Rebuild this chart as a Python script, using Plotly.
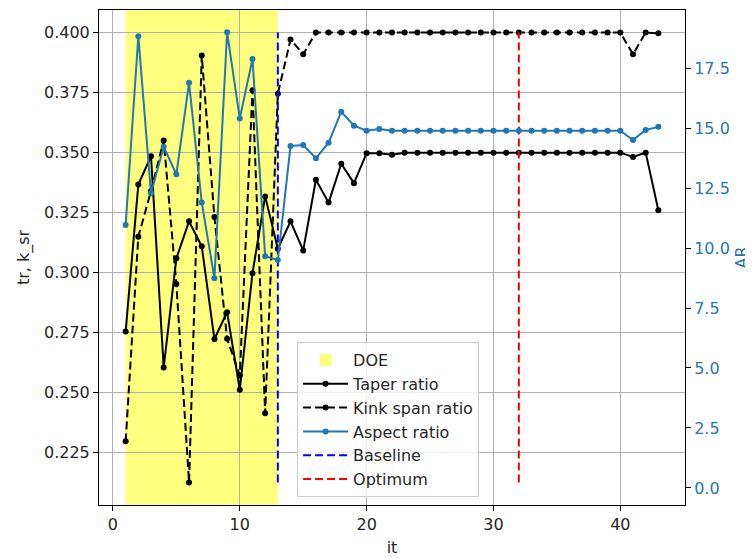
import plotly.graph_objects as go

iterations = list(range(1, 44))

taper_ratio = [0.2755, 0.3367, 0.3485, 0.2606, 0.3060, 0.3214, 0.3110, 0.2724, 0.2836, 0.2513,
               0.2998, 0.3318, 0.3100, 0.3214, 0.3093, 0.3387, 0.3292, 0.3454, 0.3373, 0.3498,
               0.3498, 0.3491, 0.3500, 0.3500, 0.3500, 0.3500, 0.3500, 0.3500, 0.3500, 0.3500,
               0.3500, 0.3500, 0.3500, 0.3500, 0.3500, 0.3500, 0.3500, 0.3500, 0.3500, 0.3500,
               0.3482, 0.3500, 0.3260]

kink_span_ratio = [0.2298, 0.3150, 0.3340, 0.3551, 0.2953, 0.2127, 0.3905, 0.3232, 0.2725, 0.2572,
                   0.3760, 0.2415, 0.3745, 0.3971, 0.3910, 0.4000, 0.4000, 0.4000, 0.4000, 0.4000,
                   0.4000, 0.4000, 0.4000, 0.4000, 0.4000, 0.4000, 0.4000, 0.4000, 0.4000, 0.4000,
                   0.4000, 0.4000, 0.4000, 0.4000, 0.4000, 0.4000, 0.4000, 0.4000, 0.4000, 0.4000,
                   0.3910, 0.4000, 0.3997]

aspect_ratio = [10.96, 18.83, 12.28, 14.22, 13.07, 16.89, 11.90, 8.74, 18.99, 15.40,
                17.88, 9.66, 9.50, 14.25, 14.29, 13.74, 14.39, 15.68, 15.10, 14.89,
                14.96, 14.89, 14.89, 14.89, 14.89, 14.89, 14.89, 14.89, 14.89, 14.89,
                14.89, 14.89, 14.89, 14.89, 14.89, 14.89, 14.89, 14.89, 14.89, 14.89,
                14.50, 14.92, 15.05]

doe_start, doe_end = 1, 13
baseline_it = 13
optimum_it = 32

left_ticks = [0.225, 0.250, 0.275, 0.300, 0.325, 0.350, 0.375, 0.400]
right_ticks = [0.0, 2.5, 5.0, 7.5, 10.0, 12.5, 15.0, 17.5]
x_ticks = [0, 10, 20, 30, 40]

BLUE = "#1f77b4"
FONT = "DejaVu Sans"
TXT = "#262626"
FS = 16

ymin_v = min(min(taper_ratio), min(kink_span_ratio))
ymax_v = max(max(taper_ratio), max(kink_span_ratio))

fig = go.Figure()

# DOE span (legend entry via shape)
fig.add_shape(type="rect", xref="x", yref="paper", x0=doe_start, x1=doe_end, y0=0, y1=1,
              fillcolor="yellow", opacity=0.5, line=dict(width=0), layer="below",
              showlegend=True, name="DOE", legendrank=1)

fig.add_trace(go.Scatter(x=iterations, y=taper_ratio, name="Taper ratio", mode="lines+markers",
                         line=dict(color="black", width=2), marker=dict(size=6, color="black"),
                         legendrank=2))
fig.add_trace(go.Scatter(x=iterations, y=kink_span_ratio, name="Kink span ratio", mode="lines+markers",
                         line=dict(color="black", width=2, dash="8px,4px"),
                         marker=dict(size=6, color="black"), legendrank=3))
fig.add_trace(go.Scatter(x=[baseline_it, baseline_it], y=[ymin_v, ymax_v], name="Baseline", mode="lines",
                         line=dict(color="#0000ff", width=2, dash="8px,4px"), legendrank=5))
fig.add_trace(go.Scatter(x=[optimum_it, optimum_it], y=[ymin_v, ymax_v], name="Optimum", mode="lines",
                         line=dict(color="#ff0000", width=2, dash="8px,4px"), legendrank=6))
fig.add_trace(go.Scatter(x=iterations, y=aspect_ratio, name="Aspect ratio", mode="lines+markers",
                         line=dict(color=BLUE, width=2), marker=dict(size=6, color=BLUE),
                         yaxis="y2", legendrank=4))

tf = dict(family=FONT, size=FS, color=TXT)

fig.update_layout(
    width=745, height=551,
    margin=dict(l=91, r=68, t=2, b=54),
    paper_bgcolor="white", plot_bgcolor="white",
    font=dict(family=FONT, size=FS, color=TXT),
    xaxis=dict(range=[-1.1, 45.1], tickvals=x_ticks, showgrid=True, gridcolor="#b0b0b0", gridwidth=1,
               title=dict(text="it", font=tf, standoff=8),
               showline=True, linecolor="black", linewidth=1, mirror=True,
               ticks="outside", ticklen=5, tickcolor="black", zeroline=False, tickfont=tf),
    yaxis=dict(range=[0.2033, 0.4094], tickvals=left_ticks, tickformat=".3f", showgrid=True,
               gridcolor="#b0b0b0", gridwidth=1,
               title=dict(text="tr, k_sr", font=tf, standoff=10),
               showline=True, linecolor="black", linewidth=1,
               ticks="outside", ticklen=5, tickcolor="black", zeroline=False, tickfont=tf),
    yaxis2=dict(range=[-0.71, 19.92], tickvals=right_ticks, tickformat=".1f", overlaying="y", side="right",
                showgrid=False, showline=True, linecolor="black", linewidth=1, ticks="outside", ticklen=5,
                tickcolor="black", zeroline=False,
                tickfont=dict(family=FONT, size=FS, color=BLUE),
                title=dict(text="AR", font=dict(family=FONT, size=FS, color=BLUE), standoff=6)),
    legend=dict(x=0.338, y=0.016, xanchor="left", yanchor="bottom",
                bgcolor="rgba(255,255,255,0.8)", bordercolor="#cccccc", borderwidth=1,
                font=dict(family=FONT, size=FS, color=TXT), tracegroupgap=0, itemwidth=45),
    showlegend=True,
)

fig.write_html("out.html")
